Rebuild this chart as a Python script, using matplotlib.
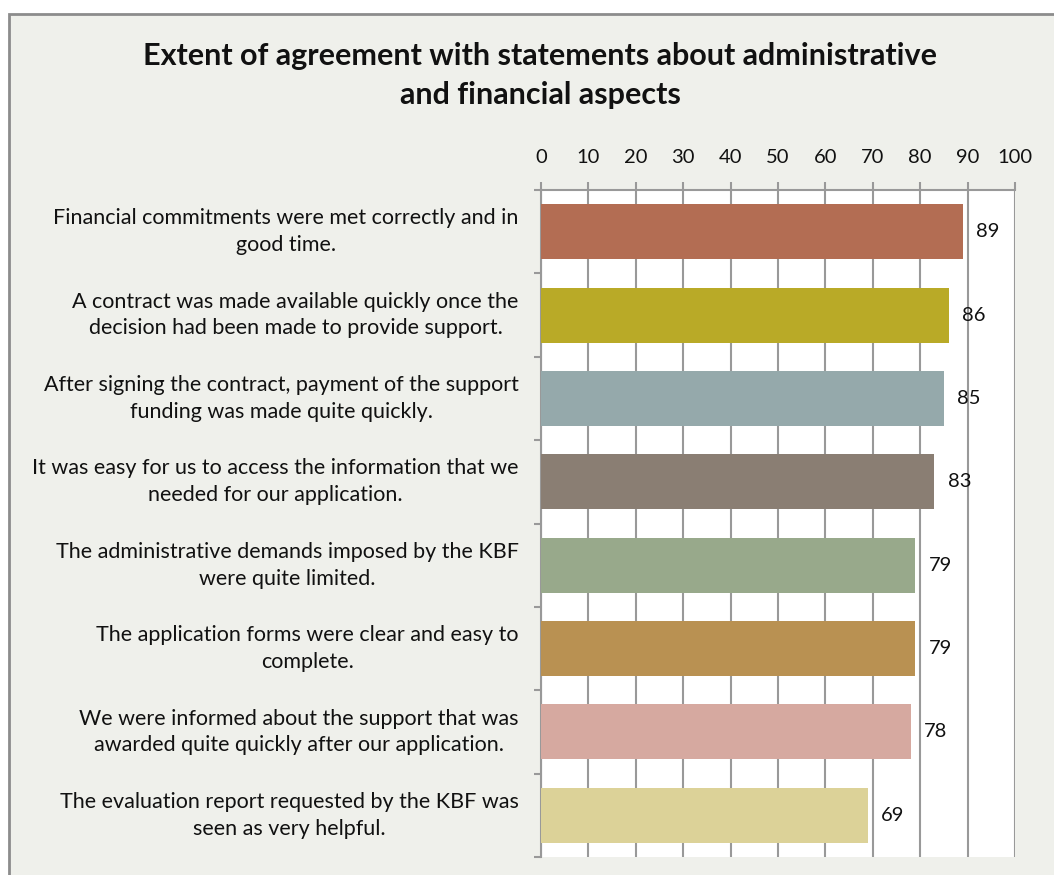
import matplotlib
matplotlib.use("Agg")
import matplotlib.pyplot as plt
from matplotlib.patches import Rectangle

plt.rcParams['font.family'] = ['Lato', 'DejaVu Sans']

statements = [
    "Financial commitments were met correctly and in\ngood time.",
    "A contract was made available quickly once the\ndecision had been made to provide support.",
    "After signing the contract, payment of the support\nfunding was made quite quickly.",
    "It was easy for us to access the information that we\nneeded for our application.",
    "The administrative demands imposed by the KBF\nwere quite limited.",
    "The application forms were clear and easy to\ncomplete.",
    "We were informed about the support that was\nawarded quite quickly after our application.",
    "The evaluation report requested by the KBF was\nseen as very helpful.",
]
scores = [89, 86, 85, 83, 79, 79, 78, 69]
bar_colors = ["#b36d53", "#b9aa27", "#95a9ab", "#8a7e73",
              "#98a98b", "#b99152", "#d6a9a0", "#dcd298"]
x_ticks = list(range(0, 101, 10))

W, H = 1054, 875
fig = plt.figure(figsize=(W / 100, H / 100), dpi=100, facecolor="white")

# chart area background with grey frame
fig.patches.append(Rectangle((9 / W, -0.05), 1.1, 1 - 14 / H + 0.05,
                             transform=fig.transFigure, facecolor="#eff0eb",
                             edgecolor="#8c8c8c", linewidth=2, zorder=-10))

fig.text(540 / W, 1 - 56 / H, "Extent of agreement with statements about administrative",
         ha="center", va="center", fontsize=22, fontweight="bold", color="#111111")
fig.text(540 / W, 1 - 95 / H, "and financial aspects",
         ha="center", va="center", fontsize=22, fontweight="bold", color="#111111")

ax = fig.add_axes([541 / W, 1 - 857 / H, (1015 - 541) / W, (857 - 190) / H])
ax.set_zorder(5)
ax.set_facecolor("white")

ypos = list(range(len(scores)))
ax.barh(ypos, scores, height=0.66, color=bar_colors, zorder=3)
for y, v in zip(ypos, scores):
    ax.annotate(str(v), (v, y), xytext=(9.5, 0), textcoords="offset points",
                ha="left", va="center", fontsize=14.5, color="#111111", zorder=4)

ax.set_xlim(0, 100)
ax.set_ylim(len(scores) - 0.5, -0.5)
ax.set_xticks(x_ticks)
ax.xaxis.tick_top()
ax.tick_params(axis="x", length=6, width=1.5, color="#999999", pad=11,
               labelsize=14.5, labelcolor="#111111")
ax.grid(axis="x", color="#999999", linewidth=1.5, zorder=1)

ax.set_yticks([i - 0.5 for i in range(len(scores) + 1)])
ax.set_yticklabels([])
ax.tick_params(axis="y", length=5, width=1.5, color="#999999")

for s in ["right", "bottom"]:
    ax.spines[s].set_visible(False)
for s in ["top", "left"]:
    ax.spines[s].set_color("#999999")
    ax.spines[s].set_linewidth(1.5)

# category labels, centred lines, right edge next to the axis
for y, txt in zip(ypos, statements):
    ax.annotate(txt, (0, y), xycoords=("axes fraction", "data"),
                xytext=(-16, 0), textcoords="offset points",
                ha="right", va="center", multialignment="center",
                fontsize=15.5, color="#111111", linespacing=1.42,
                annotation_clip=False)

fig.savefig("out.png", dpi=100, facecolor=fig.get_facecolor())
